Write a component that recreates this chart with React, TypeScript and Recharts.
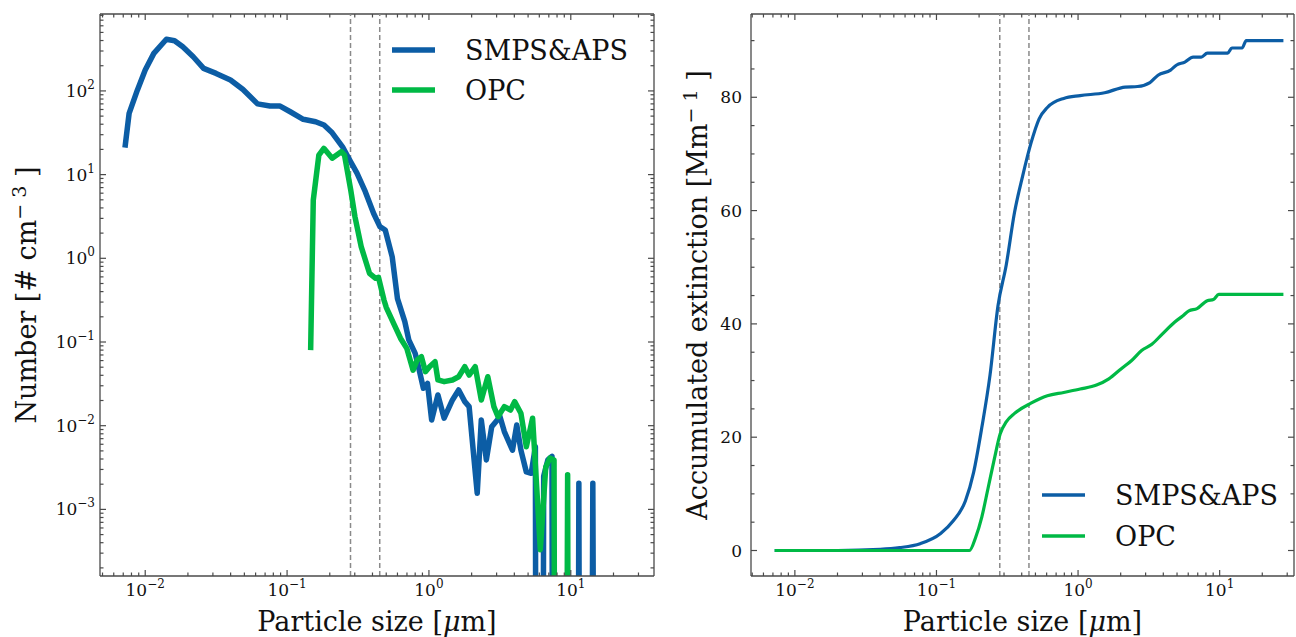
import { LineChart, Line, XAxis, YAxis, ReferenceLine, Legend } from 'recharts';

const FONT = '"DejaVu Serif", "Liberation Serif", serif';
const BLUE = '#0C5DA5';
const GREEN = '#00B945';
const AXIS = '#4a4a4a';
const TXT = '#111';

// left panel: number size distribution (zeros = empty bins)
const numSmpsX = [
  0.0072, 0.0077, 0.0088, 0.01, 0.0115, 0.0141, 0.0161, 0.0184, 0.0218, 0.0258,
  0.0316, 0.0399, 0.0489, 0.0619, 0.0757, 0.0893, 0.106, 0.13, 0.159, 0.182,
  0.208, 0.246, 0.272, 0.311, 0.356, 0.407, 0.451, 0.492, 0.551, 0.6,
  0.676, 0.721, 0.8, 0.855, 0.914, 0.977, 1.045, 1.157, 1.28, 1.465,
  1.62, 1.79, 1.92, 2.19, 2.34, 2.54, 2.77, 3.17, 3.4, 3.88,
  4.16, 4.45, 4.86, 5.26, 5.63, 5.94, 6.44, 6.89, 7.37, 7.9,
  8.6, 9.5, 10.4, 11.4, 12.4, 14.3, 16.5, 19, 22, 27.4,
];
const numSmpsY = [
  21, 54, 102, 178, 281, 414, 398, 337, 256, 186,
  162, 135, 104, 70, 66, 66, 56, 45.8, 42.9, 39.1,
  31.6, 21.5, 15.7, 10.4, 6.25, 3.45, 2.39, 2.18, 1.04, 0.33,
  0.175, 0.106, 0.073, 0.046, 0.028, 0.032, 0.0117, 0.0233, 0.0123, 0.0203,
  0.0267, 0.0194, 0.0169, 0.00156, 0.0117, 0.0039, 0.0097, 0.0128, 0.0085, 0.0051,
  0.0102, 0.0051, 0.0028, 0.0027, 0.0056, 0, 0.0025, 0.0039, 0.0043, 0,
  0, 0, 0, 0.00205, 0, 0.00205, 0, 0, 0, 0,
];
const numOpcX = [
  0.1466, 0.153, 0.1675, 0.1816, 0.208, 0.241, 0.254, 0.281, 0.301, 0.333,
  0.381, 0.421, 0.441, 0.482, 0.5, 0.57, 0.63, 0.698, 0.773, 0.826,
  0.885, 0.945, 1.01, 1.104, 1.157, 1.28, 1.465, 1.62, 1.79, 1.92,
  2.12, 2.34, 2.6, 2.87, 3.07, 3.4, 3.76, 4.02, 4.45, 4.86,
  5.38, 5.82, 6.1, 6.66, 7.12, 7.62, 8.3, 9.5, 10.4, 12.4,
  16.5, 22, 27.4,
];
const numOpcY = [
  0.08, 4.95, 17.1, 20.6, 15.7, 18.8, 17.1, 6.55, 3.14, 1.38,
  0.662, 0.577, 0.593, 0.318, 0.26, 0.16, 0.111, 0.084, 0.046, 0.061,
  0.0667, 0.0442, 0.0507, 0.0582, 0.0352, 0.0336, 0.0352, 0.0385, 0.0507, 0.0403,
  0.0507, 0.0203, 0.0385, 0.0169, 0.0128, 0.0169, 0.0154, 0.0194, 0.0141, 0.0056,
  0.0123, 0.0013, 0.00033, 0.0032, 0.0041, 0.0039, 0, 0.0026, 0, 0,
  0, 0, 0,
];

// right panel: accumulated extinction
const extSmpsX = [
  0.0072, 0.02, 0.04, 0.055, 0.0767, 0.107, 0.131, 0.16, 0.183, 0.209,
  0.239, 0.272, 0.311, 0.356, 0.406, 0.465, 0.531, 0.607, 0.792, 1.035,
  1.54, 2.15, 2.63, 3.22, 3.67, 4.5, 4.97, 5.68, 6.49, 7.41,
  8.18, 11.4, 12.2, 14.4, 15.4, 28.2,
];
const extSmpsY = [
  0, 0, 0.2, 0.5, 1.2, 3.0, 5.2, 8.75, 13.8, 21.7,
  31, 43.2, 50.4, 59.7, 66.1, 71.9, 76.2, 78.2, 79.8, 80.3,
  80.8, 81.8, 81.9, 82.6, 83.9, 84.8, 85.7, 86.2, 87.1, 87.1,
  87.8, 87.8, 88.7, 88.7, 90.0, 90.0,
];
const extOpcX = [
  0.0072, 0.171, 0.189, 0.209, 0.231, 0.255, 0.282, 0.311, 0.356, 0.465,
  0.607, 0.792, 1.035, 1.35, 1.65, 2.02, 2.38, 2.81, 3.32, 3.93,
  4.8, 5.48, 6.06, 6.92, 8.18, 9.04, 9.86, 28.2,
];
const extOpcY = [
  0, 0, 2.3, 5.9, 10.9, 15.9, 20.6, 22.7, 24.2, 26,
  27.3, 27.9, 28.5, 29.2, 30.3, 32.1, 33.5, 35.3, 36.4, 38.2,
  40.3, 41.4, 42.3, 42.7, 44.1, 44.3, 45.2, 45.2,
];

const seriesNames = ['SMPS&APS', 'OPC'];
const cutoffs = [0.28, 0.45];
const sizeDomain1 = [0.0048, 38.6];
const sizeDomain2 = [0.0049, 33.5];
const numDomain = [1.6e-4, 830];
const extDomain = [-4.5, 94.7];
const extTicks = [0, 5, 10, 15, 20, 25, 30, 35, 40, 45, 50, 55, 60, 65, 70, 75, 80, 85, 90];

const FLOOR = 1e-30; // empty bins fall far below the log axis, like matplotlib's clip

const toRows = (xs: number[], ys: number[], floor: number) =>
  xs.map((x, i) => ({ x, y: ys[i] > 0 ? ys[i] : floor }));

function logTicks(lo: number, hi: number) {
  const out: number[] = [];
  for (let e = Math.floor(Math.log10(lo)); e <= Math.ceil(Math.log10(hi)); e++) {
    for (let m = 1; m < 10; m++) {
      const v = +(m * Math.pow(10, e)).toPrecision(6);
      if (v >= lo && v <= hi) out.push(v);
    }
  }
  return out;
}

const isPow10 = (v: number) => {
  const l = Math.log10(v);
  return Math.abs(l - Math.round(l)) < 1e-6;
};

const expStr = (v: number) => {
  const e = Math.round(Math.log10(v));
  return e < 0 ? '\u2212' + -e : String(e);
};

const tl = (x1: number, y1: number, x2: number, y2: number) => (
  <line x1={x1} y1={y1} x2={x2} y2={y2} stroke={AXIS} strokeWidth={1.2} />
);

// plot box edges (chart coords) for the mirrored top/right ticks
const PLOT_TOP = 14;

// bottom axis tick: inward tick at bottom and top, label below
const logXTick = (p: any) => {
  const v = p.payload.value;
  const major = isPow10(v);
  const len = major ? 6 : 3.5;
  return (
    <g>
      {tl(p.x, p.y, p.x, p.y - len)}
      {tl(p.x, PLOT_TOP, p.x, PLOT_TOP + len)}
      {major && (
        <text x={p.x} y={p.y + 20} textAnchor="middle" fontFamily={FONT} fontSize={17} fill={TXT}>
          10<tspan dy={-8} fontSize={12}>{expStr(v)}</tspan>
        </text>
      )}
    </g>
  );
};

const logYTick = (right: number) => (p: any) => {
  const v = p.payload.value;
  const major = isPow10(v);
  const len = major ? 6 : 3.5;
  return (
    <g>
      {tl(p.x, p.y, p.x + len, p.y)}
      {tl(right, p.y, right - len, p.y)}
      {major && (
        <text x={p.x - 5} y={p.y + 6} textAnchor="end" fontFamily={FONT} fontSize={17} fill={TXT}>
          10<tspan dy={-8} fontSize={12}>{expStr(v)}</tspan>
        </text>
      )}
    </g>
  );
};

const linYTick = (right: number) => (p: any) => {
  const v = p.payload.value;
  const major = v % 20 === 0;
  const len = major ? 6 : 3.5;
  return (
    <g>
      {tl(p.x, p.y, p.x + len, p.y)}
      {tl(right, p.y, right - len, p.y)}
      {major && (
        <text x={p.x - 9} y={p.y + 6} textAnchor="end" fontFamily={FONT} fontSize={17} fill={TXT}>
          {v}
        </text>
      )}
    </g>
  );
};

const sizeLabel = (props: any) => {
  const vb = props.viewBox;
  return (
    <text x={vb.x + vb.width / 2} y={vb.y + 55} textAnchor="middle" fontFamily={FONT} fontSize={27} fill={TXT}>
      Particle size [<tspan fontStyle="italic">μ</tspan>m]
    </text>
  );
};

const rotLabel = (dx: number, main: string, sup: string) => (props: any) => {
  const vb = props.viewBox;
  const x = vb.x + dx;
  const cy = vb.y + vb.height / 2;
  return (
    <text x={x} y={cy} transform={`rotate(-90 ${x} ${cy})`} textAnchor="middle" fontFamily={FONT} fontSize={27} fill={TXT}>
      {main}
      <tspan dy={-10} fontSize={19}>{sup}</tspan>
      <tspan dy={10}> ]</tspan>
    </text>
  );
};

const legendBox = (lineW: number, gap: number) => (props: any) => {
  const items = [...(props.payload || [])].sort(
    (a: any, b: any) => seriesNames.indexOf(a.value) - seriesNames.indexOf(b.value),
  );
  return (
    <svg width={280} height={95}>
      {items.map((it: any, i: number) => {
        const y = 25 + i * gap;
        return (
          <g key={it.value}>
            <line x1={12} x2={55} y1={y} y2={y} stroke={it.color} strokeWidth={lineW} />
            <text x={85} y={y + 10} fontFamily={FONT} fontSize={27} fill={TXT}>
              {it.value}
            </text>
          </g>
        );
      })}
    </svg>
  );
};

const numSmpsRows = toRows(numSmpsX, numSmpsY, FLOOR);
const numOpcRows = toRows(numOpcX, numOpcY, FLOOR);
const extSmpsRows = toRows(extSmpsX, extSmpsY, 0);
const extOpcRows = toRows(extOpcX, extOpcY, 0);

const xTicks1 = logTicks(sizeDomain1[0], sizeDomain1[1]);
const xTicks2 = logTicks(sizeDomain2[0], sizeDomain2[1]);
const yTicks1 = logTicks(numDomain[0], numDomain[1]);

const axisLine = { stroke: AXIS, strokeWidth: 1.3 };
const spine = { stroke: AXIS, strokeWidth: 1.3, ifOverflow: 'visible' as const };

export default function App() {
  return (
    <div style={{ position: 'absolute', left: 0, top: 0, width: 1296, height: 637, background: '#fff' }}>
      <div style={{ position: 'absolute', left: 0, top: 0 }}>
        <LineChart width={680} height={637} margin={{ top: PLOT_TOP, right: 26, bottom: 0, left: 0 }}>
          <XAxis dataKey="x" type="number" scale="log" domain={sizeDomain1} allowDataOverflow ticks={xTicks1}
            interval={0} tickSize={0} tickMargin={0} tickLine={false} axisLine={axisLine} height={61}
            tick={logXTick} label={sizeLabel} />
          <YAxis type="number" scale="log" domain={numDomain} allowDataOverflow ticks={yTicks1} interval={0}
            tickSize={0} tickMargin={0} tickLine={false} axisLine={axisLine} width={100}
            tick={logYTick(654)} label={rotLabel(36, 'Number [# cm', '\u2212 3')} />
          <ReferenceLine y={numDomain[1]} {...spine} />
          <ReferenceLine x={sizeDomain1[1]} {...spine} />
          {cutoffs.map((c) => (
            <ReferenceLine key={c} x={c} stroke="#8a8a8a" strokeWidth={1.5} strokeDasharray="5 3" />
          ))}
          <Line data={numSmpsRows} dataKey="y" name="SMPS&APS" stroke={BLUE} strokeWidth={5.5} dot={false}
            strokeLinejoin="round" isAnimationActive={false} />
          <Line data={numOpcRows} dataKey="y" name="OPC" stroke={GREEN} strokeWidth={5.5} dot={false}
            strokeLinejoin="round" isAnimationActive={false} />
          <Legend layout="vertical" align="center" verticalAlign="middle" content={legendBox(5.5, 40)}
            wrapperStyle={{ position: 'absolute', left: 380, top: 25, width: 280, height: 95 }} />
        </LineChart>
      </div>
      <div style={{ position: 'absolute', left: 660, top: 0 }}>
        <LineChart width={636} height={637} margin={{ top: PLOT_TOP, right: 2, bottom: 0, left: 0 }}>
          <XAxis dataKey="x" type="number" scale="log" domain={sizeDomain2} allowDataOverflow ticks={xTicks2}
            interval={0} tickSize={0} tickMargin={0} tickLine={false} axisLine={axisLine} height={61}
            tick={logXTick} label={sizeLabel} />
          <YAxis type="number" domain={extDomain} allowDataOverflow ticks={extTicks} interval={0}
            tickSize={0} tickMargin={0} tickLine={false} axisLine={axisLine} width={91}
            tick={linYTick(634)} label={rotLabel(47, 'Accumulated extinction [Mm', '\u2212 1')} />
          <ReferenceLine y={extDomain[1]} {...spine} />
          <ReferenceLine x={sizeDomain2[1]} {...spine} />
          {cutoffs.map((c) => (
            <ReferenceLine key={c} x={c} stroke="#8a8a8a" strokeWidth={1.5} strokeDasharray="5 3" />
          ))}
          <Line type="monotone" data={extSmpsRows} dataKey="y" name="SMPS&APS" stroke={BLUE} strokeWidth={3.2}
            dot={false} strokeLinejoin="round" isAnimationActive={false} />
          <Line type="monotone" data={extOpcRows} dataKey="y" name="OPC" stroke={GREEN} strokeWidth={3.2}
            dot={false} strokeLinejoin="round" isAnimationActive={false} />
          <Legend layout="vertical" align="center" verticalAlign="middle" content={legendBox(3.5, 41)}
            wrapperStyle={{ position: 'absolute', left: 370, top: 470, width: 280, height: 95 }} />
        </LineChart>
      </div>
    </div>
  );
}
